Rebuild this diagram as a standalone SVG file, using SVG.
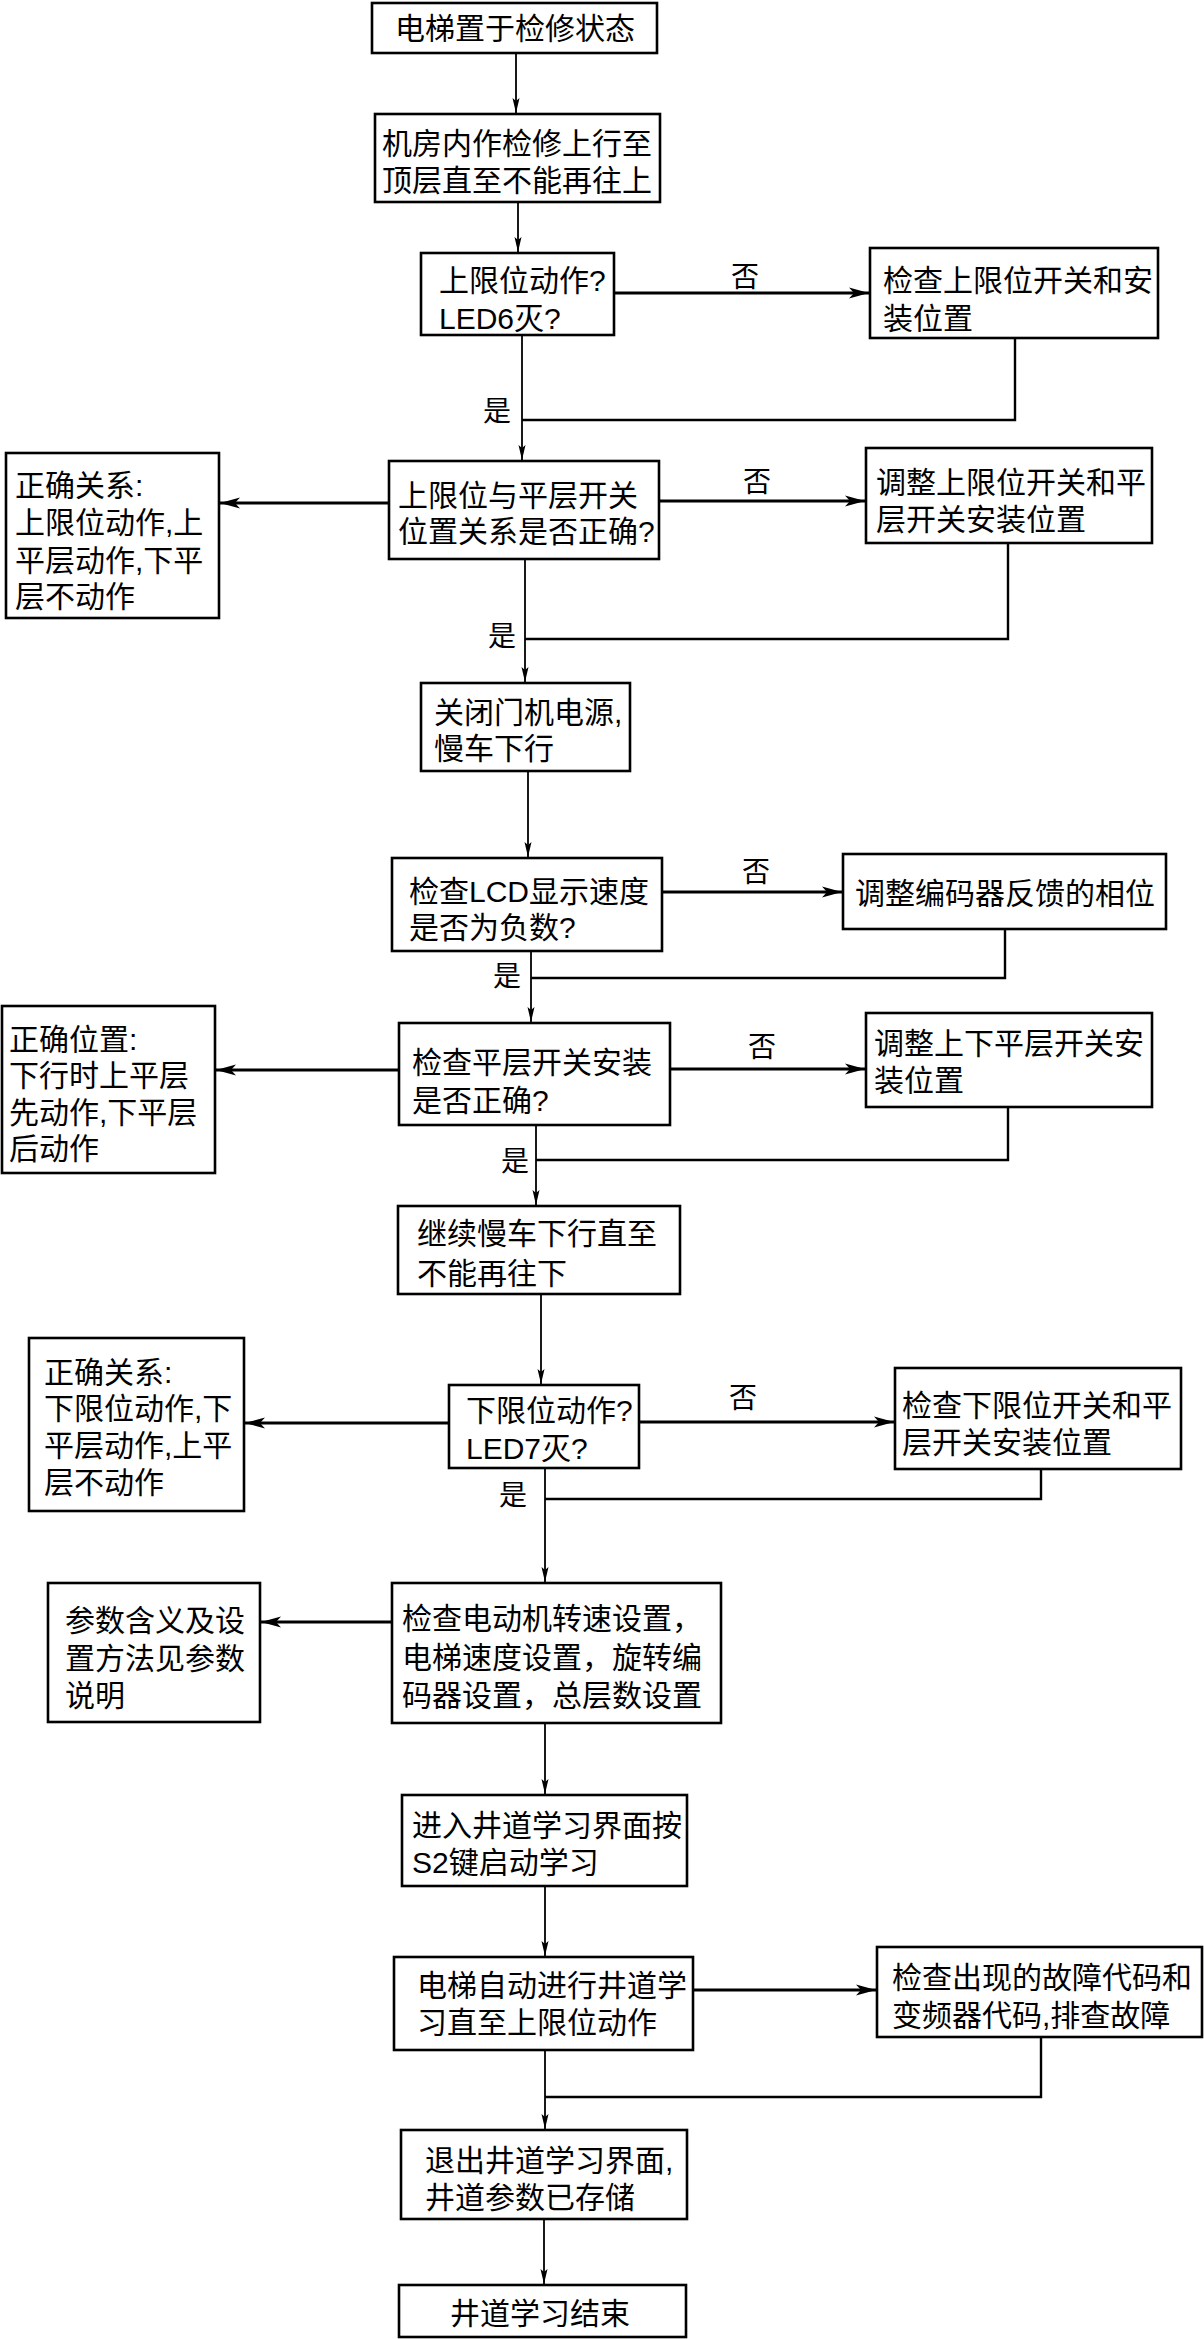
<svg xmlns="http://www.w3.org/2000/svg" width="1204" height="2339" viewBox="0 0 1204 2339">
<style>
.box{fill:#fff;stroke:#000;stroke-width:2.6}
.t{font-family:"Liberation Sans","Noto Sans CJK SC",sans-serif;font-size:30px;fill:#000}
.lbl{font-family:"Liberation Sans","Noto Sans CJK SC",sans-serif;font-size:28px;fill:#000}
.dn{fill:none;stroke:#000;stroke-width:1.8}
.sd{fill:none;stroke:#000;stroke-width:3}
.fb{fill:none;stroke:#000;stroke-width:2.4}
</style>
<defs>
<marker id="aS" markerUnits="userSpaceOnUse" markerWidth="15" markerHeight="8" refX="15" refY="4" orient="auto" viewBox="0 0 15 8">
<path d="M0,0.5 L15,4 L0,7.5 L3,4 z" fill="#000"/>
</marker>
<marker id="aB" markerUnits="userSpaceOnUse" markerWidth="20" markerHeight="12" refX="20" refY="6" orient="auto" viewBox="0 0 20 12">
<path d="M0,0.5 L20,6 L0,11.5 L5,6 z" fill="#000"/>
</marker>
</defs>
<rect width="1204" height="2339" fill="#fff"/>

<g id="connectors">
<path class="dn" d="M516,53 V113" marker-end="url(#aS)"/>
<path class="dn" d="M518,202 V252" marker-end="url(#aS)"/>
<path class="sd" d="M614,293 H869" marker-end="url(#aB)"/>
<text class="lbl" x="745" y="287" text-anchor="middle">否</text>
<path class="dn" d="M522,335 V460" marker-end="url(#aS)"/>
<text class="lbl" x="497" y="421" text-anchor="middle">是</text>
<path class="fb" d="M1015,338 V420 H522"/>
<path class="sd" d="M389,503 H220" marker-end="url(#aB)"/>
<path class="sd" d="M659,501 H865" marker-end="url(#aB)"/>
<text class="lbl" x="757" y="492" text-anchor="middle">否</text>
<path class="dn" d="M525,559 V682" marker-end="url(#aS)"/>
<path class="fb" d="M1008,543 V639 H525"/>
<text class="lbl" x="502" y="646" text-anchor="middle">是</text>
<path class="dn" d="M528,771 V857" marker-end="url(#aS)"/>
<path class="sd" d="M662,892 H842" marker-end="url(#aB)"/>
<text class="lbl" x="756" y="882" text-anchor="middle">否</text>
<path class="fb" d="M1005,929 V978 H531"/>
<text class="lbl" x="507" y="986" text-anchor="middle">是</text>
<path class="dn" d="M531,951 V1022" marker-end="url(#aS)"/>
<path class="sd" d="M399,1070 H216" marker-end="url(#aB)"/>
<path class="sd" d="M670,1069 H865" marker-end="url(#aB)"/>
<text class="lbl" x="762" y="1057" text-anchor="middle">否</text>
<path class="fb" d="M1008,1107 V1160 H536"/>
<text class="lbl" x="515" y="1171" text-anchor="middle">是</text>
<path class="dn" d="M536,1125 V1205" marker-end="url(#aS)"/>
<path class="dn" d="M541,1294 V1384" marker-end="url(#aS)"/>
<path class="sd" d="M449,1423 H245" marker-end="url(#aB)"/>
<path class="sd" d="M639,1422 H894" marker-end="url(#aB)"/>
<text class="lbl" x="743" y="1408" text-anchor="middle">否</text>
<path class="fb" d="M1041,1469 V1499 H545"/>
<text class="lbl" x="513" y="1505" text-anchor="middle">是</text>
<path class="dn" d="M545,1468 V1582" marker-end="url(#aS)"/>
<path class="sd" d="M392,1622 H261" marker-end="url(#aB)"/>
<path class="dn" d="M545,1723 V1794" marker-end="url(#aS)"/>
<path class="dn" d="M545,1886 V1956" marker-end="url(#aS)"/>
<path class="sd" d="M693,1990 H876" marker-end="url(#aB)"/>
<path class="fb" d="M1041,2037 V2097 H545"/>
<path class="dn" d="M545,2050 V2129" marker-end="url(#aS)"/>
<path class="dn" d="M544,2219 V2284" marker-end="url(#aS)"/>
</g>

<g id="n1"><rect class="box" x="372" y="3" width="285" height="50"/>
<text class="t" x="515" y="39" text-anchor="middle">电梯置于检修状态</text></g>

<g id="n2"><rect class="box" x="375" y="114" width="285" height="88"/>
<text class="t"><tspan x="382" y="154">机房内作检修上行至</tspan><tspan x="382" y="191">顶层直至不能再往上</tspan></text></g>

<g id="n3"><rect class="box" x="421" y="253" width="193" height="82"/>
<text class="t"><tspan x="439" y="291">上限位动作?</tspan><tspan x="439" y="329">LED6灭?</tspan></text></g>

<g id="n4"><rect class="box" x="870" y="248" width="288" height="90"/>
<text class="t"><tspan x="883" y="291">检查上限位开关和安</tspan><tspan x="883" y="329">装位置</tspan></text></g>

<g id="n5"><rect class="box" x="389" y="461" width="270" height="98"/>
<text class="t"><tspan x="398" y="506">上限位与平层开关</tspan><tspan x="398" y="542">位置关系是否正确?</tspan></text></g>

<g id="n6"><rect class="box" x="6" y="453" width="213" height="165"/>
<text class="t"><tspan x="15" y="496">正确关系:</tspan><tspan x="15" y="533">上限位动作,上</tspan><tspan x="15" y="571">平层动作,下平</tspan><tspan x="15" y="607">层不动作</tspan></text></g>

<g id="n7"><rect class="box" x="866" y="448" width="286" height="95"/>
<text class="t"><tspan x="876" y="493">调整上限位开关和平</tspan><tspan x="876" y="530">层开关安装位置</tspan></text></g>

<g id="n8"><rect class="box" x="421" y="683" width="209" height="88"/>
<text class="t"><tspan x="434" y="723">关闭门机电源,</tspan><tspan x="434" y="759">慢车下行</tspan></text></g>

<g id="n9"><rect class="box" x="392" y="858" width="270" height="93"/>
<text class="t"><tspan x="409" y="902">检查LCD显示速度</tspan><tspan x="409" y="938">是否为负数?</tspan></text></g>

<g id="n10"><rect class="box" x="843" y="854" width="323" height="75"/>
<text class="t" x="855" y="904">调整编码器反馈的相位</text></g>

<g id="n11"><rect class="box" x="399" y="1023" width="271" height="102"/>
<text class="t"><tspan x="412" y="1073">检查平层开关安装</tspan><tspan x="412" y="1111">是否正确?</tspan></text></g>

<g id="n12"><rect class="box" x="2" y="1006" width="213" height="167"/>
<text class="t"><tspan x="9" y="1050">正确位置:</tspan><tspan x="9" y="1086">下行时上平层</tspan><tspan x="9" y="1123">先动作,下平层</tspan><tspan x="9" y="1159">后动作</tspan></text></g>

<g id="n13"><rect class="box" x="866" y="1013" width="286" height="94"/>
<text class="t"><tspan x="874" y="1054">调整上下平层开关安</tspan><tspan x="874" y="1091">装位置</tspan></text></g>

<g id="n14"><rect class="box" x="398" y="1206" width="282" height="88"/>
<text class="t"><tspan x="417" y="1244">继续慢车下行直至</tspan><tspan x="417" y="1284">不能再往下</tspan></text></g>

<g id="n15"><rect class="box" x="449" y="1385" width="190" height="83"/>
<text class="t"><tspan x="466" y="1421">下限位动作?</tspan><tspan x="466" y="1459">LED7灭?</tspan></text></g>

<g id="n16"><rect class="box" x="29" y="1338" width="215" height="173"/>
<text class="t"><tspan x="44" y="1383">正确关系:</tspan><tspan x="44" y="1419">下限位动作,下</tspan><tspan x="44" y="1456">平层动作,上平</tspan><tspan x="44" y="1493">层不动作</tspan></text></g>

<g id="n17"><rect class="box" x="895" y="1368" width="286" height="101"/>
<text class="t"><tspan x="902" y="1416">检查下限位开关和平</tspan><tspan x="902" y="1453">层开关安装位置</tspan></text></g>

<g id="n18"><rect class="box" x="392" y="1583" width="329" height="140"/>
<text class="t"><tspan x="402" y="1629">检查电动机转速设置，</tspan><tspan x="402" y="1668">电梯速度设置，旋转编</tspan><tspan x="402" y="1706">码器设置，总层数设置</tspan></text></g>

<g id="n19"><rect class="box" x="48" y="1583" width="212" height="139"/>
<text class="t"><tspan x="65" y="1631">参数含义及设</tspan><tspan x="65" y="1669">置方法见参数</tspan><tspan x="65" y="1706">说明</tspan></text></g>

<g id="n20"><rect class="box" x="402" y="1795" width="285" height="91"/>
<text class="t"><tspan x="412" y="1836">进入井道学习界面按</tspan><tspan x="412" y="1873">S2键启动学习</tspan></text></g>

<g id="n21"><rect class="box" x="394" y="1957" width="299" height="93"/>
<text class="t"><tspan x="417" y="1996">电梯自动进行井道学</tspan><tspan x="417" y="2033">习直至上限位动作</tspan></text></g>

<g id="n22"><rect class="box" x="877" y="1947" width="325" height="90"/>
<text class="t"><tspan x="892" y="1988">检查出现的故障代码和</tspan><tspan x="892" y="2026">变频器代码,排查故障</tspan></text></g>

<g id="n23"><rect class="box" x="401" y="2130" width="286" height="89"/>
<text class="t"><tspan x="425" y="2171">退出井道学习界面,</tspan><tspan x="425" y="2208">井道参数已存储</tspan></text></g>

<g id="n24"><rect class="box" x="399" y="2285" width="287" height="52"/>
<text class="t" x="540" y="2324" text-anchor="middle">井道学习结束</text></g>
</svg>
